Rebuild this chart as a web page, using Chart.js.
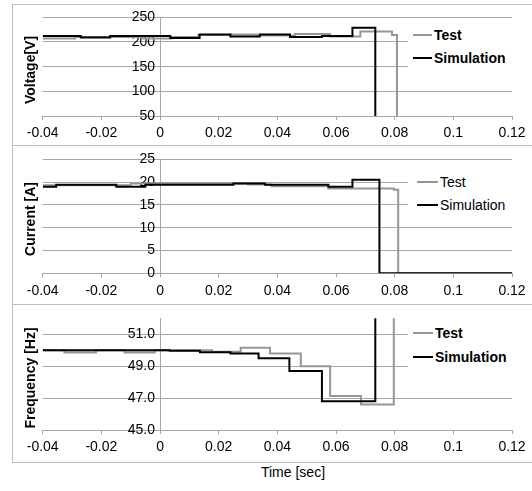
<!DOCTYPE html>
<html>
<head>
<meta charset="utf-8">
<script src="https://cdn.jsdelivr.net/npm/chart.js@4"></script>
<style>
    body { margin: 0; background: #fff; font-family: "Liberation Sans", Arial, sans-serif; }
    .panel { position: absolute; left: 12px; width: 530px; border: 1px solid #bdbdbd; box-sizing: border-box; }
    .panel canvas { position: absolute; left: 0; top: 0; }
    .ytitle { position: absolute; font-size: 14px; font-weight: bold; white-space: nowrap;
              transform: translate(-50%, -50%) rotate(-90deg); }
    .legend { position: absolute; background: #fff; font-size: 14px; }
    .legend div { position: absolute; white-space: nowrap; line-height: 16px; }
    .legend span { display: inline-block; width: 20px; height: 2px; vertical-align: middle; margin-right: 2px; position: relative; top: -1px; }
    #xtitle { position: absolute; left: 293px; top: 472px; transform: translate(-50%, -50%); font-size: 14px; }
</style>
</head>
<body>

<div class="panel" id="p1" style="top:4px;height:142px;"><canvas id="voltChart"></canvas></div>
<div class="panel" id="p2" style="top:145px;height:160px;"><canvas id="currChart"></canvas></div>
<div class="panel" id="p3" style="top:304px;height:159px;"><canvas id="freqChart"></canvas></div>
<div class="ytitle" style="left:30px;top:70px;">Voltage[V]</div>
<div class="ytitle" style="left:30px;top:219px;">Current [A]</div>
<div class="ytitle" style="left:30px;top:378px;">Frequency [Hz]</div>
<div id="xtitle">Time [sec]</div>

<script>
// eje x comun
const xTicks = [-0.04, -0.02, 0, 0.02, 0.04, 0.06, 0.08, 0.1, 0.12];
const xTickLabels = ['-0.04', '-0.02', '0', '0.02', '0.04', '0.06', '0.08', '0.1', '0.12'];
const seriesNames = ['Test', 'Simulation'];

// voltaje
const voltTicks = [50, 100, 150, 200, 250];
const testVoltT = [-0.04, -0.029, -0.006, 0.004, 0.013, 0.024, 0.033, 0.046, 0.058, 0.0683, 0.0791, 0.0808, 0.12];
const testVoltV = [207, 210, 207, 210, 214, 215, 213, 216, 211, 221, 214, 0, 0];
const simVoltT = [-0.04, -0.027, -0.017, 0.0035, 0.0135, 0.024, 0.034, 0.0443, 0.0552, 0.0656, 0.0734, 0.12];
const simVoltV = [212, 209, 212, 208, 215, 211, 215, 210, 212, 229, 0, 0];

// corriente
const currTicks = [0, 5, 10, 15, 20, 25];
const testCurrT = [-0.04, -0.01, 0.03, 0.038, 0.0574, 0.0797, 0.0812, 0.12];
const testCurrV = [19.3, 19.7, 19.5, 19.1, 18.6, 18.3, 0, 0];
const simCurrT = [-0.04, -0.0354, -0.0149, -0.005, 0.025, 0.0358, 0.0574, 0.0656, 0.0748, 0.12];
const simCurrV = [19.0, 19.4, 19.0, 19.4, 19.7, 19.4, 19.0, 20.5, 0, 0];

// frecuencia
const freqTicks = [45, 47, 49, 51];
const testFreqT = [-0.04, -0.0326, -0.0218, -0.0121, -0.0018, 0.0177, 0.0275, 0.0375, 0.048, 0.058, 0.0685, 0.0797, 0.12];
const testFreqV = [50.0, 49.85, 50.0, 49.85, 50.0, 49.9, 50.16, 49.8, 49.0, 47.13, 46.6, 56, 56];
const simFreqT = [-0.04, 0.0033, 0.0136, 0.024, 0.0336, 0.0441, 0.0552, 0.0734, 0.12];
const simFreqV = [50.0, 49.97, 49.87, 49.8, 49.5, 48.7, 46.8, 56, 56];

const testColor = '#969696';
const simColor = '#000000';
const gridColor = '#a6a6a6';

Chart.defaults.font.family = '"Liberation Sans", Arial, sans-serif';
Chart.defaults.font.size = 14;
Chart.defaults.color = '#000';

function toPoints(ts, vs) {
    return ts.map((t, i) => ({ x: t, y: vs[i] }));
}

// Crea un panel con su grafico y su leyenda
function makePanel(opt) {
    const panel = document.getElementById(opt.panel);
    const canvas = document.getElementById(opt.canvas);
    const w = 518;
    const h = panel.clientHeight;
    canvas.width = w;
    canvas.height = h;
    canvas.style.width = w + 'px';
    canvas.style.height = h + 'px';

    const chart = new Chart(canvas.getContext('2d'), {
        type: 'line',
        data: {
            datasets: [
                { label: seriesNames[0], data: toPoints(opt.testT, opt.testV), borderColor: testColor, borderWidth: 2, order: 1 },
                { label: seriesNames[1], data: toPoints(opt.simT, opt.simV), borderColor: simColor, borderWidth: 2, order: 0 }
            ]
        },
        options: {
            responsive: false,
            animation: false,
            elements: { point: { radius: 0 }, line: { stepped: true, tension: 0 } },
            layout: { padding: { left: 29.7, right: 19, top: opt.top, bottom: opt.bottom } },
            plugins: { legend: { display: false }, tooltip: { enabled: false } },
            scales: {
                x: {
                    type: 'linear',
                    min: -0.04,
                    max: 0.12,
                    afterBuildTicks: s => { s.ticks = xTicks.map(v => ({ value: v })); },
                    afterFit: s => { s.height = 24; },
                    ticks: { padding: 5, maxRotation: 0, autoSkip: false, callback: (v, i) => xTickLabels[i] },
                    grid: { drawOnChartArea: false, tickLength: 4, color: gridColor },
                    border: { color: gridColor }
                },
                // eje con lineas, cruza en x = 0
                y: {
                    type: 'linear',
                    min: opt.yMin,
                    max: opt.yMax,
                    position: { x: 0 },
                    afterBuildTicks: s => { s.ticks = opt.yTicks.map(v => ({ value: v })); },
                    ticks: { display: false },
                    grid: { color: gridColor, drawTicks: false },
                    border: { color: gridColor }
                },
                // solo etiquetas, un poco a la izquierda del eje
                yLabels: {
                    type: 'linear',
                    axis: 'y',
                    min: opt.yMin,
                    max: opt.yMax,
                    position: { x: -0.0017 },
                    afterBuildTicks: s => { s.ticks = opt.yTicks.map(v => ({ value: v })); },
                    ticks: { padding: 0, callback: opt.yFmt },
                    grid: { display: false, drawTicks: false },
                    border: { display: false }
                }
            }
        }
    });

    // leyenda en html
    const leg = document.createElement('div');
    leg.className = 'legend';
    leg.style.left = opt.legX + 'px';
    leg.style.top = opt.legY + 'px';
    leg.style.width = '110px';
    leg.style.height = '52px';
    chart.data.datasets.forEach((ds, i) => {
        const row = document.createElement('div');
        row.style.left = (opt.markX - opt.legX) + 'px';
        row.style.top = (opt.rowY[i] - opt.legY - 8) + 'px';
        if (opt.bold) row.style.fontWeight = 'bold';
        row.innerHTML = '<span style="background:' + ds.borderColor + ';width:' + opt.markW + 'px"></span>' + ds.label;
        leg.appendChild(row);
    });
    panel.appendChild(leg);
    return chart;
}

makePanel({
    panel: 'p1', canvas: 'voltChart', top: 12.3, bottom: 5,
    testT: testVoltT, testV: testVoltV, simT: simVoltT, simV: simVoltV,
    yMin: 50, yMax: 250, yTicks: voltTicks, yFmt: v => String(v),
    legX: 395, legY: 19, markX: 400, markW: 19, rowY: [30, 53], bold: true
});
makePanel({
    panel: 'p2', canvas: 'currChart', top: 13.3, bottom: 6.7,
    testT: testCurrT, testV: testCurrV, simT: simCurrT, simV: simCurrV,
    yMin: 0, yMax: 25, yTicks: currTicks, yFmt: v => String(v),
    legX: 395, legY: 22, markX: 404, markW: 21, rowY: [36, 59], bold: false
});
makePanel({
    panel: 'p3', canvas: 'freqChart', top: 13.3, bottom: 8,
    testT: testFreqT, testV: testFreqV, simT: simFreqT, simV: simFreqV,
    yMin: 45, yMax: 52, yTicks: freqTicks, yFmt: v => v.toFixed(1),
    legX: 395, legY: 16, markX: 400, markW: 20, rowY: [28, 52], bold: true
});
</script>
</body>
</html>
